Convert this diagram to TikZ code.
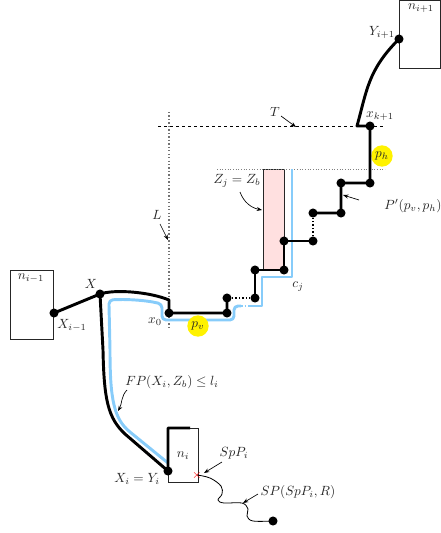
\documentclass[tikz,border=0pt]{standalone}
\usetikzlibrary{arrows.meta,calc}
\definecolor{pathblue}{RGB}{135,204,250}
\definecolor{zpink}{RGB}{255,224,224}
\begin{document}
\begin{tikzpicture}[x=0.75pt,y=-0.75pt,
  thickp/.style={line width=2.2pt, line join=round},
  bluep/.style={draw=pathblue, line width=2.2pt, line join=round},
  dot/.style={circle, fill=black, inner sep=0pt, minimum size=6.8pt},
  lbl/.style={text=black!85, inner sep=1pt},
  ptr/.style={-{Stealth[length=4pt,width=3pt]}, line width=0.5pt},
  thinbox/.style={draw=black!85, line width=0.6pt},
  hl/.style={circle, fill=yellow, minimum size=16pt, inner sep=0pt},
  ldot/.style={line width=1pt, dash pattern=on 1pt off 1.6pt}]
\useasboundingbox (0,0) rectangle (441,533);

% boxes
\draw[thinbox] (10,270) rectangle (53,339);
\draw[thinbox] (399,0.5) rectangle (440.5,68);
\draw[thinbox] (168,428) rectangle (198,482);
\draw[thinbox, fill=zpink] (263,169) rectangle (284,269);

% reference lines
\draw[black!55, ldot] (169,112) -- (169,328);
\draw[black!50, line width=0.5pt, dash pattern=on 0.8pt off 1.2pt] (217,169) -- (385,169);
\draw[black, line width=0.6pt, dash pattern=on 2.5pt off 2pt] (158,126) -- (385,126);

% key points
\coordinate (Xim1) at (54,313);
\coordinate (X) at (100,294);
\coordinate (x0) at (169,313);
\coordinate (a1) at (227,313);
\coordinate (a2) at (227,298);
\coordinate (a3) at (255,298);
\coordinate (a4) at (255,270);
\coordinate (a5) at (284,270);
\coordinate (a6) at (284,241);
\coordinate (a7) at (313,241);
\coordinate (a8) at (313,213);
\coordinate (a9) at (341,213);
\coordinate (a10) at (341,183);
\coordinate (a11) at (370,183);
\coordinate (xk1) at (370,126);
\coordinate (Yi1) at (399,39);
\coordinate (Xi) at (168,471);
\coordinate (sp) at (197,475);
\coordinate (R) at (273,521);

% blue path
\draw[bluep] (168,463) -- (130,432) .. controls (114,419) and (110,400) .. (110,350)
  -- (109,305) [rounded corners=3pt] -- (109,300) .. controls (125,299) and (145,300) .. (162,304)
  -- (162,320) -- (234,320) -- (234,306) -- (241,306);
\draw[bluep, dash pattern=on 1.2pt off 1.6pt] (241,306) -- (250,306);
\draw[bluep] (250,306) -- (262,306) -- (262,277) -- (292,277) -- (292,169);

% highlights
\node[hl] (pv) at (198,326) {};
\node[hl] (ph) at (382,156) {};
\node[lbl] at (pv) {$p_v$};
\node[lbl] at (ph) {$p_h$};

% black path
\draw[thickp] (Xim1) -- (X) .. controls (115,289) and (150,292) .. (169,300) -- (x0) -- (a1) -- (a2);
\draw[ldot] ($(a2)+(5,0)$) -- ($(a3)+(-5,0)$);
\draw[thickp] (a3) -- (a4) -- (a5) -- (a6) -- (a7);
\draw[ldot] ($(a7)+(0,-5)$) -- ($(a8)+(0,5)$);
\draw[thickp] (a8) -- (a9) -- (a10) -- (a11) -- (xk1) -- (357,126) .. controls (367,90) and (368,70) .. (Yi1);
\draw[thickp] (X) -- (103,350) .. controls (104,400) and (108,418) .. (125,434) -- (Xi) -- (168,428) -- (190,428);

% dots
\foreach \p in {Xim1,X,x0,a1,a2,a3,a4,a5,a6,a7,a8,a9,a10,a11,xk1,Yi1,Xi,R}
  \node[dot] at (\p) {};

% squiggle
\draw[line width=0.6pt] plot[smooth, tension=0.6] coordinates {(197,475) (210,478) (221,486) (222,494) (218,500) (224,503) (242,503) (248,509) (247,516) (253,521) (273,521)};
\node[red, font=\small] (cross) at (sp) {$\times$};

% labels
\node[lbl] at (31,278) {$n_{i-1}$};
\node[lbl] at (72,325) {$X_{i-1}$};
\node[lbl] at (91,284) {$X$};
\node[lbl] at (155,322) {$x_0$};
\node[lbl] (Llab) at (157,215) {$L$};
\draw[ptr] (160,224) -- (168,240);
\node[lbl] (Tlab) at (275,112) {$T$};
\draw[ptr] (281,116) -- (296,127);
\node[lbl] (Zlab) at (237,181) {$Z_j = Z_b$};
\draw[ptr] (240,192) .. controls (244,203) and (252,208) .. (262,210);
\node[lbl] at (298,287) {$c_j$};
\node[lbl] at (380,116) {$x_{k+1}$};
\node[lbl] at (382,32) {$Y_{i+1}$};
\node[lbl] at (421,8) {$n_{i+1}$};
\node[lbl] (Plab) at (413,206) {$P'(p_v,p_h)$};
\draw[ptr] (359,200) -- (343,195);
\node[lbl] (FPlab) at (172,382) {$FP(X_i,Z_b)\le l_i$};
\draw[ptr] (127,390) .. controls (121,396) and (122,404) .. (118,411);
\node[lbl] at (183,456) {$n_i$};
\node[lbl] at (137,479) {$X_i = Y_i$};
\node[lbl] (Slab) at (234,453) {$SpP_i$};
\draw[ptr] (222,462) -- (204,473);
\node[lbl] (SPlab) at (298,492) {$SP(SpP_i,R)$};
\draw[ptr] (258,494) -- (243,503);
\end{tikzpicture}
\end{document}
